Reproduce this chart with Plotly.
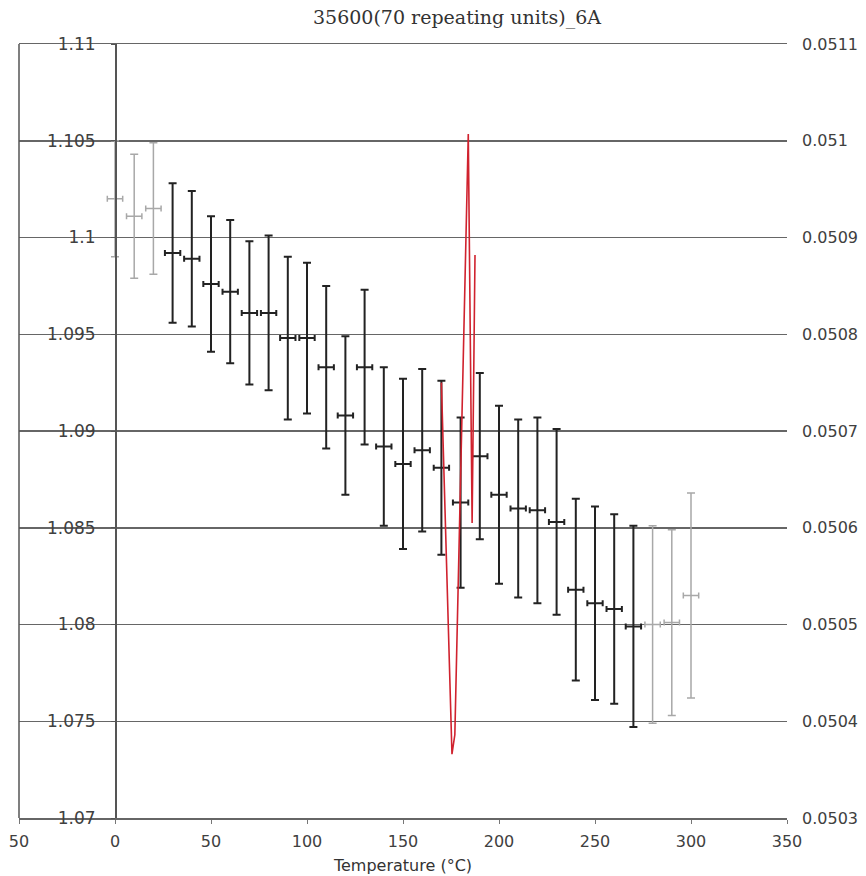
import plotly.graph_objects as go

# ---- data ----
temps = [0, 10, 20, 30, 40, 50, 60, 70, 80, 90, 100, 110, 120, 130, 140, 150,
         160, 170, 180, 190, 200, 210, 220, 230, 240, 250, 260, 270, 280, 290, 300]
means = [1.1020, 1.1011, 1.1015, 1.0992, 1.0989, 1.0976, 1.0972, 1.0961, 1.0961,
         1.0948, 1.0948, 1.0933, 1.0908, 1.0933, 1.0892, 1.0883, 1.0890, 1.0881,
         1.0863, 1.0887, 1.0867, 1.0860, 1.0859, 1.0853, 1.0818, 1.0811, 1.0808,
         1.0799, 1.0800, 1.0801, 1.0815]
errs = [0.0030, 0.0032, 0.0034, 0.0036, 0.0035, 0.0035, 0.0037, 0.0037, 0.0040,
        0.0042, 0.0039, 0.0042, 0.0041, 0.0040, 0.0041, 0.0044, 0.0042, 0.0045,
        0.0044, 0.0043, 0.0046, 0.0046, 0.0048, 0.0048, 0.0047, 0.0050, 0.0049,
        0.0052, 0.0051, 0.0048, 0.0053]
temp_err = 4
gray_temps = [0, 10, 20, 280, 290, 300]

red_t = [170, 175.5, 177, 184, 186, 187.5]
red_v = [0.05075, 0.050366, 0.050386, 0.051007, 0.050605, 0.050882]

x_ticks = [-50, 0, 50, 100, 150, 200, 250, 300, 350]
x_labels = ["50", "0", "50", "100", "150", "200", "250", "300", "350"]
y_ticks = [1.07, 1.075, 1.08, 1.085, 1.09, 1.095, 1.1, 1.105, 1.11]
y_labels = ["1.07", "1.075", "1.08", "1.085", "1.09", "1.095", "1.1", "1.105", "1.11"]
y2_ticks = [0.0503, 0.0504, 0.0505, 0.0506, 0.0507, 0.0508, 0.0509, 0.0510, 0.0511]
y2_labels = ["0.0503", "0.0504", "0.0505", "0.0506", "0.0507", "0.0508", "0.0509", "0.051", "0.0511"]

title_text = "35600(70 repeating units)_6A"
x_title = "Temperature (°C)"

# ---- split series ----
gx, gy, ge, bx, by, be = [], [], [], [], [], []
for t, m, e in zip(temps, means, errs):
    if t in gray_temps:
        gx.append(t); gy.append(m); ge.append(e)
    else:
        bx.append(t); by.append(m); be.append(e)

fig = go.Figure()

def err_trace(xs, ys, es, color, thick):
    return go.Scatter(
        x=xs, y=ys, mode="markers",
        marker=dict(size=1, color=color, opacity=0),
        error_y=dict(type="data", array=es, visible=True, color=color,
                     thickness=thick, width=4),
        error_x=dict(type="constant", value=temp_err, visible=True, color=color,
                     thickness=thick, width=3),
        showlegend=False, hoverinfo="skip",
    )

fig.add_trace(err_trace(gx, gy, ge, "#a8a8a8", 1.5))
fig.add_trace(err_trace(bx, by, be, "#222222", 2))

fig.add_trace(go.Scatter(
    x=red_t, y=red_v, yaxis="y2", mode="lines",
    line=dict(color="#d0222e", width=1.6),
    showlegend=False, hoverinfo="skip",
))

W, H = 866, 876
L, R, T, B = 19, 866 - 787, 44, 876 - 818
zero_pos = (0 - (-50)) / 400.0

fig.update_layout(
    width=W, height=H,
    margin=dict(l=L, r=R, t=T, b=B, pad=0, autoexpand=False),
    paper_bgcolor="white", plot_bgcolor="white",
    title=dict(text=title_text, x=457 / W, xref="container", xanchor="center",
               y=1 - 17 / H, yref="container", yanchor="middle", automargin=False,
               font=dict(family="DejaVu Serif", size=19, color="#333333")),
    xaxis=dict(range=[-50, 350], tickmode="array", tickvals=x_ticks, ticktext=x_labels,
               showgrid=False, zeroline=False, showline=True, mirror=True,
               linecolor="#666666", automargin=False,
               linewidth=1.5, ticks="outside", ticklen=4, tickcolor="#777777",
               ticklabelstandoff=4,
               tickfont=dict(family="DejaVu Sans", size=16, color="#404040"),
               title=dict(text=x_title, standoff=10,
                          font=dict(family="DejaVu Sans", size=16, color="#333333"))),
    yaxis=dict(range=[1.07, 1.11], tickmode="array", tickvals=y_ticks, ticktext=y_labels,
               anchor="free", position=zero_pos, showline=True, linecolor="#555555",
               linewidth=1.5, showgrid=True, gridcolor="#666666", gridwidth=1.5,
               zeroline=False, ticks="outside", ticklen=4, tickcolor="#555555",
               ticklabelstandoff=12, automargin=False,
               tickfont=dict(family="DejaVu Sans", size=17, color="#404040")),
    yaxis2=dict(range=[0.0503, 0.0511], overlaying="y", side="right", anchor="x",
                tickmode="array", tickvals=y2_ticks, ticktext=y2_labels,
                showgrid=False, zeroline=False, showline=False, ticks="",
                ticklabelstandoff=14, automargin=False,
                tickfont=dict(family="DejaVu Sans", size=16, color="#404040")),
    shapes=[dict(type="line", xref="paper", yref="paper", x0=0, x1=0, y0=0, y1=1,
                 line=dict(color="#555555", width=1.5))],
)

fig.write_html("out.html",
               config={"displayModeBar": False, "staticPlot": True},
               post_script="document.body.style.margin='0';document.body.style.overflow='hidden';")
